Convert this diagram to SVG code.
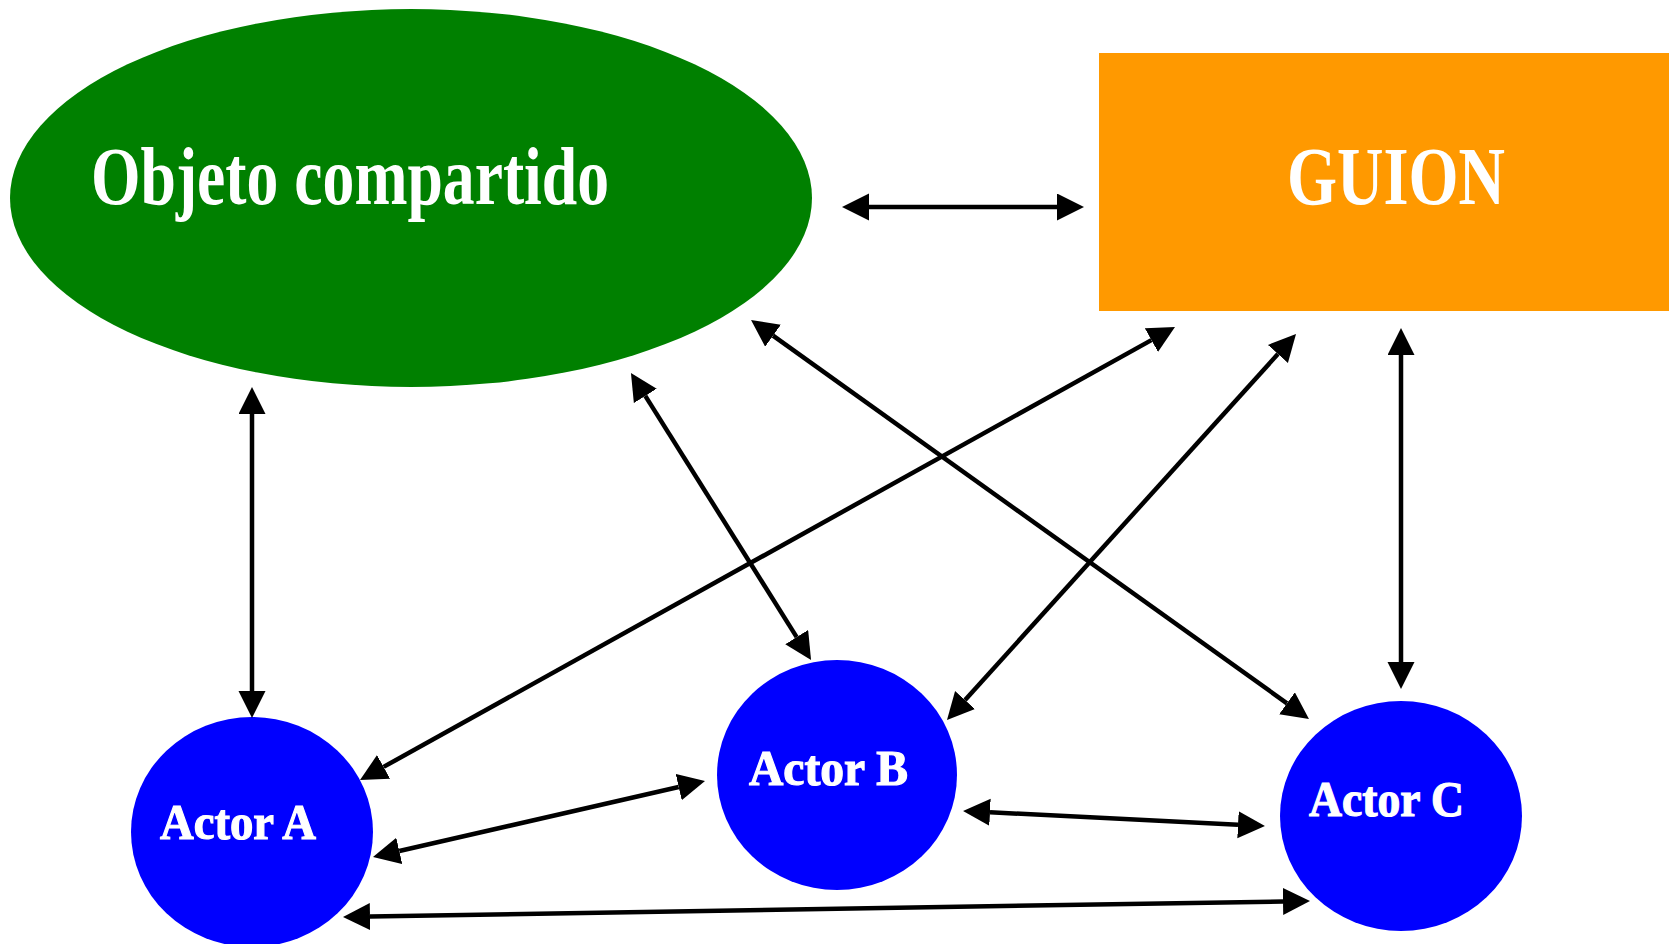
<svg xmlns="http://www.w3.org/2000/svg" width="1669" height="944" viewBox="0 0 1669 944">
<defs>
<style>
.big{font-family:"Liberation Serif","Times New Roman",serif;font-size:82px;font-weight:bold;fill:#fff}
.act{font-family:"Liberation Serif","Times New Roman",serif;font-size:50px;font-weight:bold;fill:#fff;stroke:#fff;stroke-width:1.2}
.con line{stroke:#000;stroke-width:4.5;marker-start:url(#ah);marker-end:url(#ah)}
</style>
<marker id="ah" markerUnits="userSpaceOnUse" markerWidth="28" markerHeight="28" refX="0" refY="13.5" orient="auto-start-reverse" viewBox="0 0 28 28">
<path d="M0,0 L27,13.5 L0,27 z" fill="#000"/>
</marker>
</defs>
<rect width="1669" height="944" fill="#fff"/>
<g id="objeto">
<ellipse cx="411" cy="198" rx="401" ry="189" fill="#008000"/>
<text class="big" x="91" y="204" textLength="518" lengthAdjust="spacingAndGlyphs">Objeto compartido</text>
</g>
<g id="guion">
<rect x="1099" y="53" width="580" height="258" fill="#FF9900"/>
<text class="big" x="1287" y="204" textLength="218" lengthAdjust="spacingAndGlyphs">GUION</text>
</g>
<g id="actorA">
<ellipse cx="252" cy="832" rx="121" ry="115" fill="#0000FF"/>
<text class="act" x="160" y="839" textLength="156" lengthAdjust="spacingAndGlyphs">Actor A</text>
</g>
<g id="actorB">
<ellipse cx="837" cy="775" rx="120" ry="115" fill="#0000FF"/>
<text class="act" x="749" y="785" textLength="159" lengthAdjust="spacingAndGlyphs">Actor B</text>
</g>
<g id="actorC">
<ellipse cx="1401" cy="816" rx="121" ry="115" fill="#0000FF"/>
<text class="act" x="1309" y="816" textLength="155" lengthAdjust="spacingAndGlyphs">Actor C</text>
</g>
<g id="connectors" class="con">
<line x1="869" y1="207" x2="1057" y2="207"/>
<line x1="252" y1="414" x2="252" y2="691"/>
<line x1="645.3" y1="395.9" x2="796.7" y2="637.1"/>
<line x1="773" y1="335.7" x2="1287" y2="703.3"/>
<line x1="1151.4" y1="340.1" x2="383.6" y2="766.9"/>
<line x1="1277.9" y1="354" x2="965.1" y2="700"/>
<line x1="1401" y1="355" x2="1401" y2="662"/>
<line x1="399.3" y1="851" x2="678.7" y2="787"/>
<line x1="990" y1="812.3" x2="1238" y2="824.7"/>
<line x1="370" y1="916.55" x2="1283" y2="901.45"/>
</g>
</svg>
